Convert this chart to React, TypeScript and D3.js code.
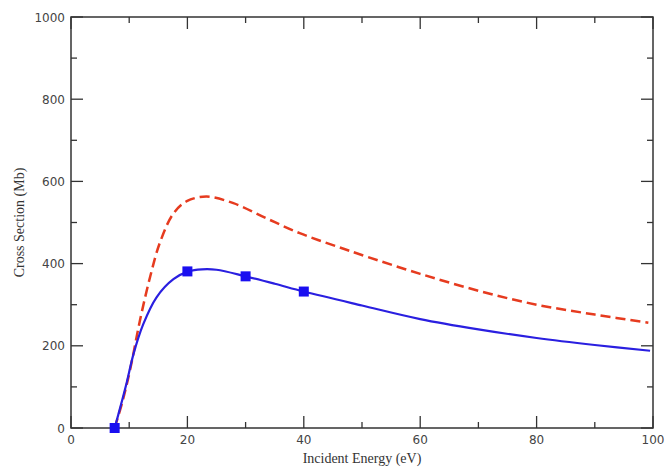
import * as d3 from "d3"

const blueX = [7.5, 8.5, 9.6, 10.7, 12.4, 14.7, 17.6, 20.2, 22.5, 25, 30, 35, 40, 50, 60, 70, 80, 90, 99.5]
const blueY = [0, 52, 112, 178, 252, 318, 362, 381, 386, 385, 369, 351, 332, 298, 265, 240, 219, 202, 188]

const redX = [7.5, 8.8, 10.1, 11.9, 13.6, 15.3, 17.6, 19.9, 23.3, 27.9, 33.6, 39.3, 45, 50.8, 60, 70, 80, 90, 99.2]
const redY = [0, 62, 138, 265, 368, 452, 522, 552, 563, 547, 510, 474, 445, 417, 375, 334, 300, 276, 256]

const markX = [7.5, 20, 30, 40]
const markY = [0, 381, 369, 332]

const xMajor = [0, 20, 40, 60, 80, 100]
const xMinor = [10, 30, 50, 70, 90]
const yMajor = [0, 200, 400, 600, 800, 1000]
const yMinor = [100, 300, 500, 700, 900]

const W = 667
const H = 468
const L = 71
const R = 653
const T = 17
const B = 428

export default function App() {
  const x = d3.scaleLinear().domain([0, 100]).range([L, R])
  const y = d3.scaleLinear().domain([0, 1000]).range([B, T])

  const line = d3
    .line<[number, number]>()
    .x((d) => x(d[0]))
    .y((d) => y(d[1]))
    .curve(d3.curveCatmullRom.alpha(0.5))

  const blue = blueX.map((v, i) => [v, blueY[i]] as [number, number])
  const red = redX.map((v, i) => [v, redY[i]] as [number, number])

  const axisColor = "#333"
  const major = 12
  const minor = 6

  return (
    <svg
      width={W}
      height={H}
      style={{ position: "absolute", left: 0, top: 0, background: "#fff" }}
    >
      {/* ticks on all four sides, pointing in */}
      <g stroke={axisColor} strokeWidth={1.3}>
        {xMajor.map((v) => (
          <g key={"xm" + v}>
            <line x1={x(v)} x2={x(v)} y1={B} y2={B - major} />
            <line x1={x(v)} x2={x(v)} y1={T} y2={T + major} />
          </g>
        ))}
        {xMinor.map((v) => (
          <g key={"xn" + v}>
            <line x1={x(v)} x2={x(v)} y1={B} y2={B - minor} />
            <line x1={x(v)} x2={x(v)} y1={T} y2={T + minor} />
          </g>
        ))}
        {yMajor.map((v) => (
          <g key={"ym" + v}>
            <line x1={L} x2={L + major} y1={y(v)} y2={y(v)} />
            <line x1={R} x2={R - major} y1={y(v)} y2={y(v)} />
          </g>
        ))}
        {yMinor.map((v) => (
          <g key={"yn" + v}>
            <line x1={L} x2={L + minor} y1={y(v)} y2={y(v)} />
            <line x1={R} x2={R - minor} y1={y(v)} y2={y(v)} />
          </g>
        ))}
      </g>

      <rect
        x={L}
        y={T}
        width={R - L}
        height={B - T}
        fill="none"
        stroke={axisColor}
        strokeWidth={1.5}
      />

      <g fontFamily="DejaVu Sans" fontSize={12} fill="#444">
        {xMajor.map((v) => (
          <text key={"xl" + v} x={x(v)} y={B + 16} textAnchor="middle">
            {v}
          </text>
        ))}
        {yMajor.map((v) => (
          <text key={"yl" + v} x={L - 6} y={y(v) + 4.5} textAnchor="end">
            {v}
          </text>
        ))}
      </g>

      <path
        d={line(red) ?? ""}
        fill="none"
        stroke="#e63b1f"
        strokeWidth={2.5}
        strokeDasharray="10,5"
      />
      <path d={line(blue) ?? ""} fill="none" stroke="#2a1fe0" strokeWidth={2.2} />

      {markX.map((v, i) => (
        <rect
          key={"mk" + v}
          x={x(v) - 5}
          y={y(markY[i]) - 5}
          width={10}
          height={10}
          fill="#1a0ff0"
        />
      ))}

      <g fontFamily="Liberation Serif" fontSize={14} fill="#333">
        <text x={(L + R) / 2} y={463} textAnchor="middle">
          Incident Energy (eV)
        </text>
        <text
          transform={`translate(24,${(T + B) / 2}) rotate(-90)`}
          textAnchor="middle"
        >
          Cross Section (Mb)
        </text>
      </g>
    </svg>
  )
}
